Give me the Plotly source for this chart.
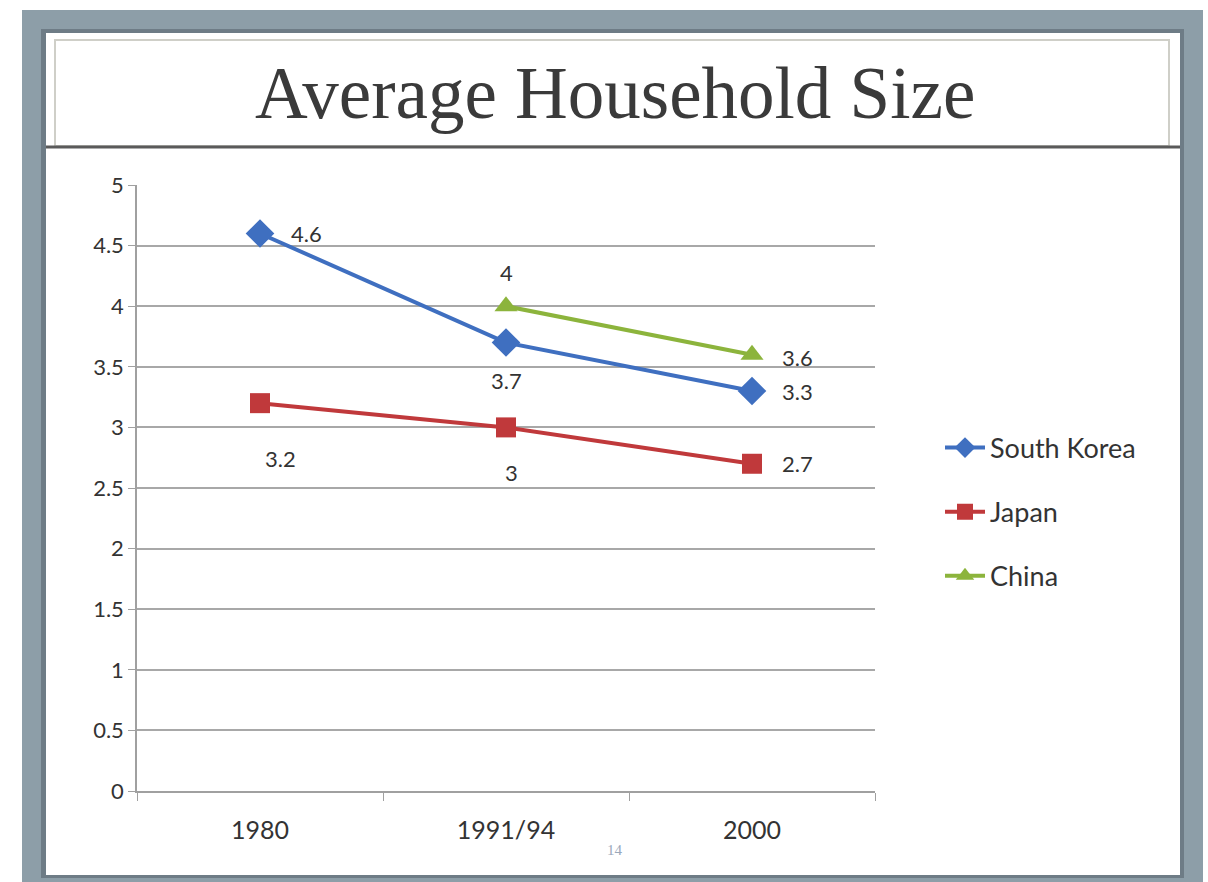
import plotly.graph_objects as go

# ---- data ----
categories = ["1980", "1991/94", "2000"]
south_korea = [4.6, 3.7, 3.3]
japan = [3.2, 3.0, 2.7]
china = [None, 4.0, 3.6]
y_ticks = [0, 0.5, 1, 1.5, 2, 2.5, 3, 3.5, 4, 4.5, 5]
y_tick_labels = ["0", "0.5", "1", "1.5", "2", "2.5", "3", "3.5", "4", "4.5", "5"]
title_text = "Average Household Size"
page_number = "14"

# ---- styles ----
W, H = 1208, 882
series = [
    ("South Korea", south_korea, "#3F6FC0", "diamond", 22),
    ("Japan", japan, "#C0393B", "square", 20),
    ("China", china, "#8CB43C", "triangle-up", 20),
]
# label offsets (dx, dy in px) for each point
label_offsets = {
    "South Korea": [(29, 0, "left"), (0, -38, "center"), (28, 0, "left")],
    "Japan": [(20, -55, "center"), (5, -45, "center"), (28, 0, "left")],
    "China": [None, (0, 34, "center"), (28, -3, "left")],
}

plot_l, plot_r, plot_t, plot_b = 137, 875, 185, 791


def px_x(v):
    return v / W


def px_y(v):
    return 1 - v / H


fig = go.Figure()
for i, (name, vals, color, sym, size) in enumerate(series):
    fig.add_trace(go.Scatter(
        x=categories, y=vals, name=name, mode="lines+markers",
        line=dict(color=color, width=4),
        marker=dict(symbol=sym, size=size, color=color),
        legendgroup=name, connectgaps=False,
    ))
    for j, v in enumerate(vals):
        off = label_offsets[name][j]
        if v is None or off is None:
            continue
        dx, dy, anchor = off
        fig.add_annotation(
            x=j, y=v, xref="x", yref="y", text=f"{v:g}", showarrow=False,
            xanchor=anchor, yanchor="middle", xshift=dx, yshift=dy,
            font=dict(family="Lato", size=22, color="#333333"),
        )

P = dict(xref="paper", yref="paper", layer="below")
shapes = [
    # gray frame
    dict(type="rect", x0=px_x(22), x1=px_x(1203), y0=px_y(882), y1=px_y(10),
         fillcolor="#8D9EA8", line=dict(width=0), **P),
    # inner shadow
    dict(type="rect", x0=px_x(41), x1=px_x(1184), y0=px_y(878), y1=px_y(29),
         fillcolor="#6E7C86", line=dict(width=0), **P),
    # white slide panel
    dict(type="rect", x0=px_x(46), x1=px_x(1180), y0=px_y(875), y1=px_y(33),
         fillcolor="white", line=dict(width=0), **P),
    # title box border
    dict(type="rect", x0=px_x(55), x1=px_x(1169), y0=px_y(146), y1=px_y(40),
         fillcolor="rgba(0,0,0,0)", line=dict(width=2, color="#CFCFC8"), **P),
    # dark separator line
    dict(type="line", x0=px_x(46), x1=px_x(1180), y0=px_y(147), y1=px_y(147),
         line=dict(width=3, color="#5A5A5A"), **P),
]

fig.add_annotation(
    x=px_x(615), y=px_y(94), xref="paper", yref="paper", text=title_text,
    showarrow=False, xanchor="center", yanchor="middle",
    font=dict(family="Liberation Serif", size=73, color="#3A3A3A"),
)
fig.add_annotation(
    x=px_x(615), y=px_y(850), xref="paper", yref="paper", text=page_number,
    showarrow=False, xanchor="center", yanchor="middle",
    font=dict(family="Liberation Serif", size=15, color="#9AA8BA"),
)

fig.update_layout(
    width=W, height=H,
    margin=dict(l=0, r=0, t=0, b=0, pad=0, autoexpand=False),
    paper_bgcolor="white", plot_bgcolor="white",
    shapes=shapes,
    showlegend=True,
    legend=dict(
        x=px_x(940), y=px_y(512), xanchor="left", yanchor="middle",
        font=dict(family="Lato", size=27, color="#333333"),
        bgcolor="rgba(0,0,0,0)", tracegroupgap=26, traceorder="grouped",
        itemwidth=40,
    ),
    xaxis=dict(
        domain=[px_x(plot_l), px_x(plot_r)],
        type="category", range=[-0.5, 2.5],
        tickson="boundaries", ticks="outside", ticklen=8, tickcolor="#A0A0A0",
        showline=True, linecolor="#A0A0A0", linewidth=2,
        showgrid=False, zeroline=False,
        tickfont=dict(family="Lato", size=25, color="#333333"),
        ticklabelstandoff=16,
    ),
    yaxis=dict(
        domain=[px_y(plot_b), px_y(plot_t)],
        range=[0, 5], tickvals=y_ticks, ticktext=y_tick_labels,
        ticks="outside", ticklen=7, tickcolor="#A0A0A0",
        showline=True, linecolor="#A0A0A0", linewidth=1.5,
        showgrid=True, gridcolor="#A8A8A8", gridwidth=2, zeroline=False,
        tickfont=dict(family="Lato", size=22, color="#333333"),
    ),
)

fig.write_html("out.html", config={"displayModeBar": False},
               post_script="document.body.style.margin='0';")
